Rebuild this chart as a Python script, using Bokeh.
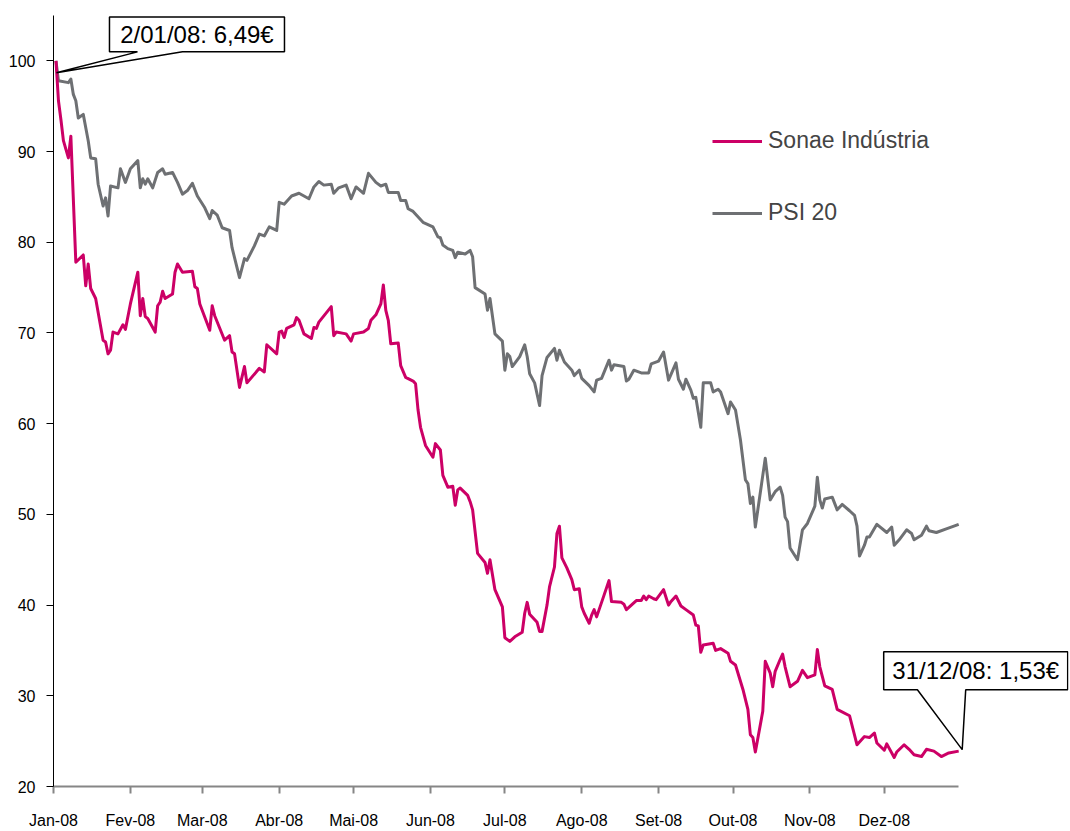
import pandas as pd
from bokeh.plotting import figure
from bokeh.models import (FixedTicker, CustomJSTickFormatter, Legend, LegendItem,
                          Label, Range1d, ColumnDataSource)
from bokeh.embed import file_html
from bokeh.resources import INLINE

# ---------------- data ----------------
YEAR = "2008"
month_labels = ["Jan-08", "Fev-08", "Mar-08", "Abr-08", "Mai-08", "Jun-08",
                "Jul-08", "Ago-08", "Set-08", "Out-08", "Nov-08", "Dez-08"]
y_ticks = [20, 30, 40, 50, 60, 70, 80, 90, 100]
series_names = ["Sonae Indústria", "PSI 20"]
start_note = "2/01/08: 6,49€"
end_note = "31/12/08: 1,53€"

sonae_dates = [
    "01-02", "01-03", "01-04", "01-05", "01-07", "01-08", "01-10", "01-13", "01-14", "01-15",
    "01-16", "01-18", "01-21", "01-22", "01-23", "01-24", "01-25", "01-27", "01-29", "01-30",
    "02-01", "02-04", "02-05", "02-06", "02-07", "02-08", "02-11", "02-12", "02-13", "02-14",
    "02-15", "02-18", "02-19", "02-20", "02-22", "02-26", "02-27", "02-28", "02-29", "03-04",
    "03-05", "03-06", "03-10", "03-12", "03-13", "03-14", "03-16", "03-18", "03-19", "03-24",
    "03-26", "03-27", "03-31", "04-01", "04-02", "04-03", "04-04", "04-07", "04-08", "04-09",
    "04-11", "04-14", "04-15", "04-16", "04-17", "04-22", "04-23", "04-24", "04-28", "04-30",
    "05-01", "05-05", "05-07", "05-08", "05-10", "05-12", "05-13", "05-14", "05-15", "05-16",
    "05-19", "05-20", "05-22", "05-25", "05-26", "05-27", "05-28", "05-30", "06-02", "06-03",
    "06-05", "06-06", "06-08", "06-10", "06-11", "06-12", "06-13", "06-16", "06-17", "06-18",
    "06-20", "06-23", "06-24", "06-25", "06-27", "06-30", "07-01", "07-03", "07-05", "07-08",
    "07-09", "07-10", "07-11", "07-14", "07-15", "07-16", "07-18", "07-19", "07-21", "07-22",
    "07-23", "07-24", "07-26", "07-28", "07-29", "07-31", "08-01", "08-02", "08-04", "08-05",
    "08-06", "08-07", "08-08", "08-10", "08-12", "08-13", "08-17", "08-18", "08-19", "08-21",
    "08-23", "08-25", "08-26", "08-27", "08-28", "08-30", "08-31", "09-03", "09-05", "09-06",
    "09-08", "09-10", "09-12", "09-15", "09-16", "09-17", "09-18", "09-19", "09-23", "09-24",
    "09-26", "09-29", "09-30", "10-02", "10-05", "10-07", "10-08", "10-09", "10-10", "10-13",
    "10-14", "10-16", "10-17", "10-18", "10-20", "10-21", "10-22", "10-24", "10-27", "10-29",
    "10-31", "11-03", "11-04", "11-05", "11-07", "11-10", "11-12", "11-17", "11-20", "11-23",
    "11-25", "11-27", "11-28", "12-01", "12-02", "12-05", "12-06", "12-09", "12-11", "12-13",
    "12-16", "12-18", "12-21", "12-24", "12-27", "12-31"]
sonae_values = [
    100, 95.6, 93.5, 91.2, 89.3, 91.7, 77.8, 78.6, 75.2, 77.6,
    74.9, 73.8, 69.2, 69.0, 67.7, 68.1, 70.1, 69.9, 70.9, 70.4,
    73.2, 76.7, 71.9, 73.8, 71.8, 71.6, 70.1, 73.0, 73.4, 74.6,
    73.8, 74.3, 76.7, 77.6, 76.7, 76.8, 75.1, 74.9, 73.2, 70.3,
    73.0, 71.9, 69.2, 69.7, 67.9, 67.7, 64.0, 66.3, 64.5, 66.1,
    65.7, 68.7, 67.7, 70.1, 70.2, 69.5, 70.5, 70.9, 71.7, 71.4,
    69.9, 69.4, 70.6, 70.5, 71.2, 72.9, 69.7, 70.1, 69.9, 69.1,
    69.9, 70.1, 70.5, 71.4, 72.0, 73.2, 75.3, 72.5, 71.4, 68.8,
    68.9, 66.4, 65.1, 64.7, 64.4, 61.5, 59.6, 57.6, 56.3, 57.8,
    57.1, 54.3, 53.0, 53.1, 51.0, 52.7, 52.9, 52.1, 51.4, 50.5,
    45.7, 44.7, 43.5, 45.0, 41.7, 39.8, 36.4, 36.0, 36.5, 37.0,
    39.1, 40.3, 39.0, 38.1, 37.1, 37.1, 40.0, 42.0, 44.2, 47.9,
    48.7, 45.2, 44.1, 42.8, 41.7, 41.8, 39.8, 39.1, 38.0, 38.9,
    39.5, 38.7, 39.5, 41.1, 42.7, 40.4, 40.3, 40.1, 39.5, 40.0,
    40.5, 40.5, 41.0, 40.6, 41.0, 40.7, 40.6, 41.7, 40.0, 40.4,
    41.0, 39.9, 39.5, 38.9, 37.8, 37.7, 34.8, 35.6, 35.8, 35.0,
    35.2, 34.7, 33.8, 33.4, 30.7, 28.5, 25.7, 25.4, 23.8, 28.3,
    33.8, 32.5, 31.0, 32.7, 34.0, 34.6, 33.2, 31.0, 31.6, 32.8,
    32.0, 32.3, 35.1, 33.2, 31.1, 30.7, 28.5, 27.8, 24.6, 25.5,
    25.4, 25.9, 24.8, 24.0, 24.7, 23.2, 23.8, 24.6, 24.1, 23.5,
    23.3, 24.1, 23.9, 23.3, 23.7, 23.9]

psi_dates = [
    "01-02", "01-03", "01-07", "01-08", "01-09", "01-10", "01-11", "01-13", "01-15", "01-16",
    "01-18", "01-19", "01-21", "01-22", "01-23", "01-24", "01-27", "01-28", "01-30", "02-01",
    "02-04", "02-05", "02-06", "02-07", "02-08", "02-10", "02-12", "02-14", "02-15", "02-18",
    "02-20", "02-22", "02-24", "02-26", "02-28", "03-02", "03-04", "03-05", "03-07", "03-09",
    "03-12", "03-13", "03-16", "03-18", "03-19", "03-22", "03-24", "03-26", "03-28", "03-31",
    "04-01", "04-03", "04-06", "04-09", "04-13", "04-15", "04-17", "04-19", "04-22", "04-23",
    "04-25", "04-28", "04-30", "05-02", "05-05", "05-07", "05-10", "05-12", "05-14", "05-15",
    "05-19", "05-20", "05-22", "05-23", "05-25", "05-29", "06-02", "06-04", "06-05", "06-06",
    "06-08", "06-10", "06-11", "06-12", "06-15", "06-17", "06-18", "06-19", "06-23", "06-24",
    "06-25", "06-27", "06-30", "07-01", "07-02", "07-03", "07-04", "07-07", "07-09", "07-10",
    "07-11", "07-13", "07-15", "07-16", "07-18", "07-21", "07-22", "07-23", "07-25", "07-28",
    "07-29", "07-31", "08-01", "08-04", "08-06", "08-07", "08-09", "08-12", "08-13", "08-14",
    "08-18", "08-19", "08-20", "08-22", "08-25", "08-28", "08-29", "09-01", "09-03", "09-05",
    "09-08", "09-09", "09-11", "09-12", "09-14", "09-15", "09-16", "09-18", "09-19", "09-22",
    "09-23", "09-25", "09-26", "09-29", "09-30", "10-02", "10-04", "10-06", "10-07", "10-08",
    "10-09", "10-10", "10-14", "10-16", "10-18", "10-20", "10-21", "10-22", "10-23", "10-24",
    "10-27", "10-29", "10-31", "11-03", "11-04", "11-05", "11-06", "11-07", "11-10", "11-12",
    "11-14", "11-17", "11-19", "11-20", "11-21", "11-23", "11-24", "11-25", "11-28", "12-02",
    "12-04", "12-05", "12-07", "12-10", "12-12", "12-13", "12-16", "12-18", "12-19", "12-22",
    "12-26", "12-31"]
psi_values = [
    100, 97.8, 97.6, 98.0, 96.3, 95.6, 93.7, 94.1, 91.2, 89.3,
    89.2, 86.4, 84.0, 84.9, 82.9, 86.2, 86.0, 88.1, 86.6, 88.1,
    89.0, 86.0, 87.0, 86.4, 87.0, 86.0, 87.7, 88.1, 87.5, 87.7,
    86.6, 85.3, 85.7, 86.5, 85.1, 83.8, 82.6, 83.5, 83.0, 81.6,
    81.3, 79.4, 76.1, 78.2, 78.0, 79.6, 80.9, 80.7, 81.7, 81.3,
    84.4, 84.2, 85.1, 85.4, 84.8, 86.1, 86.7, 86.3, 86.4, 85.4,
    86.0, 86.3, 84.8, 86.1, 85.4, 87.6, 86.6, 86.2, 86.4, 85.5,
    85.5, 84.6, 84.6, 83.7, 83.4, 82.2, 81.7, 80.6, 80.5, 79.7,
    79.3, 79.1, 78.3, 78.9, 78.7, 79.1, 78.4, 75.0, 74.3, 72.5,
    73.8, 69.9, 69.1, 65.9, 67.7, 67.4, 66.3, 67.4, 68.7, 67.4,
    65.5, 64.5, 62.0, 65.3, 67.3, 68.3, 67.0, 68.1, 66.8, 65.9,
    65.3, 65.9, 65.0, 64.2, 63.5, 64.8, 65.0, 67.0, 65.9, 66.5,
    66.3, 64.7, 64.9, 65.9, 65.6, 65.6, 66.6, 66.9, 67.9, 64.8,
    66.7, 64.9, 63.8, 64.9, 63.7, 62.8, 62.9, 59.6, 64.5, 64.5,
    63.5, 63.8, 63.5, 61.1, 62.4, 61.5, 58.2, 53.8, 53.4, 51.2,
    51.9, 48.6, 56.2, 51.6, 52.5, 53.0, 52.1, 49.7, 49.2, 46.3,
    45.0, 48.3, 49.0, 50.9, 54.1, 51.6, 50.7, 51.7, 51.9, 50.5,
    51.1, 50.4, 49.9, 48.7, 45.4, 46.6, 47.5, 47.5, 48.9, 48.0,
    48.6, 46.6, 47.2, 48.3, 47.9, 47.2, 47.7, 48.7, 48.2, 48.0,
    48.4, 48.9]

# ---------------- styling / layout ----------------
SONAE_COLOR = "#CC0066"
PSI_COLOR = "#6E7073"
AXIS_GRAY = "#868686"
FONT = "Liberation Sans"

W, H = 1070, 831
LEFT, RIGHT, TOP, BOTTOM = 53, 2, 15, 44
FW = W - LEFT - RIGHT
FH = H - TOP - BOTTOM
PX_PER_DAY = 2.48
Y0, Y1 = 20, 105
PX_PER_UNIT = FH / (Y1 - Y0)
DAY_MS = 86400000.0


def to_ms(mmdd_list):
    return [pd.Timestamp(f"{YEAR}-{d}").value / 1e6 for d in mmdd_list]


x_start = pd.Timestamp(f"{YEAR}-01-01").value / 1e6
x_axis_end = pd.Timestamp(f"{YEAR}-12-31").value / 1e6
x_end = x_start + FW / PX_PER_DAY * DAY_MS

p = figure(width=W, height=H, x_range=Range1d(x_start, x_end), y_range=Range1d(Y0, Y1),
           x_axis_type="datetime", output_backend="svg", toolbar_location=None,
           min_border_left=LEFT, min_border_right=RIGHT, min_border_top=TOP,
           min_border_bottom=BOTTOM, background_fill_color="white",
           border_fill_color="white")
p.outline_line_color = None
p.xgrid.visible = False
p.ygrid.visible = False

sonae_src = ColumnDataSource(dict(x=to_ms(sonae_dates), y=sonae_values))
psi_src = ColumnDataSource(dict(x=to_ms(psi_dates), y=psi_values))

r_psi = p.line("x", "y", source=psi_src, line_color=PSI_COLOR, line_width=3,
               line_join="round")
r_sonae = p.line("x", "y", source=sonae_src, line_color=SONAE_COLOR, line_width=3,
                 line_join="round")

# x axis
month_ticks = [pd.Timestamp(f"{YEAR}-{m:02d}-01").value / 1e6 for m in range(1, 13)]
xa = p.xaxis[0]
xa.ticker = FixedTicker(ticks=month_ticks)
xa.formatter = CustomJSTickFormatter(args=dict(labels=month_labels),
                                     code="const d = new Date(tick); return labels[d.getUTCMonth()];")
xa.bounds = (x_start, x_axis_end)
xa.axis_line_color = AXIS_GRAY
xa.axis_line_width = 2
xa.major_tick_line_color = AXIS_GRAY
xa.major_tick_line_width = 2
xa.major_tick_out = 7
xa.major_tick_in = 0
xa.minor_tick_line_color = None
xa.major_label_text_font = FONT
xa.major_label_text_font_size = "16px"
xa.major_label_text_color = "black"
xa.major_label_standoff = 18

# y axis
ya = p.yaxis[0]
ya.ticker = FixedTicker(ticks=y_ticks)
ya.axis_line_color = "black"
ya.axis_line_width = 1
ya.major_tick_line_color = "black"
ya.major_tick_out = 7
ya.major_tick_in = 0
ya.minor_tick_line_color = None
ya.major_label_text_font = FONT
ya.major_label_text_font_size = "16px"
ya.major_label_text_color = "black"
ya.major_label_standoff = 11


# callouts (geometry given as pixel offsets from the anchored data point)
def callout(ax, ay, box, base, tip, text):
    L, R, T, B = box
    pts = [(L, T), (R, T), (R, B), (base[1], B), tip, (base[0], B), (L, B)]
    xs = [ax + dx / PX_PER_DAY * DAY_MS for dx, dy in pts]
    ys = [ay - dy / PX_PER_UNIT for dx, dy in pts]
    p.patch(xs, ys, fill_color="white", line_color="black", line_width=1.5)
    cx = ax + (L + R) / 2 / PX_PER_DAY * DAY_MS
    cy = ay - (T + B) / 2 / PX_PER_UNIT
    p.add_layout(Label(x=cx, y=cy, text=text, text_align="center", text_baseline="middle",
                       text_font=FONT, text_font_size="24px", text_color="black"))


s_x = sonae_src.data["x"]
callout(s_x[0], sonae_values[0], (53.5, 228.5, -44, -9), (81.5, 126.5), (0.5, 12), start_note)
callout(s_x[-1], sonae_values[-1], (-75, 109, -99.5, -61.5), (-41.3, 7), (3.5, -1.5), end_note)

# legend
legend = Legend(items=[LegendItem(label=series_names[0], renderers=[r_sonae]),
                       LegendItem(label=series_names[1], renderers=[r_psi])],
                location=(659, 560), orientation="vertical", glyph_width=50, glyph_height=20,
                label_text_font=FONT, label_text_font_size="23px", label_standoff=6,
                spacing=45, padding=0, margin=0, border_line_color=None,
                background_fill_alpha=0)
p.add_layout(legend)

open("out.html", "w").write(file_html(p, INLINE))
